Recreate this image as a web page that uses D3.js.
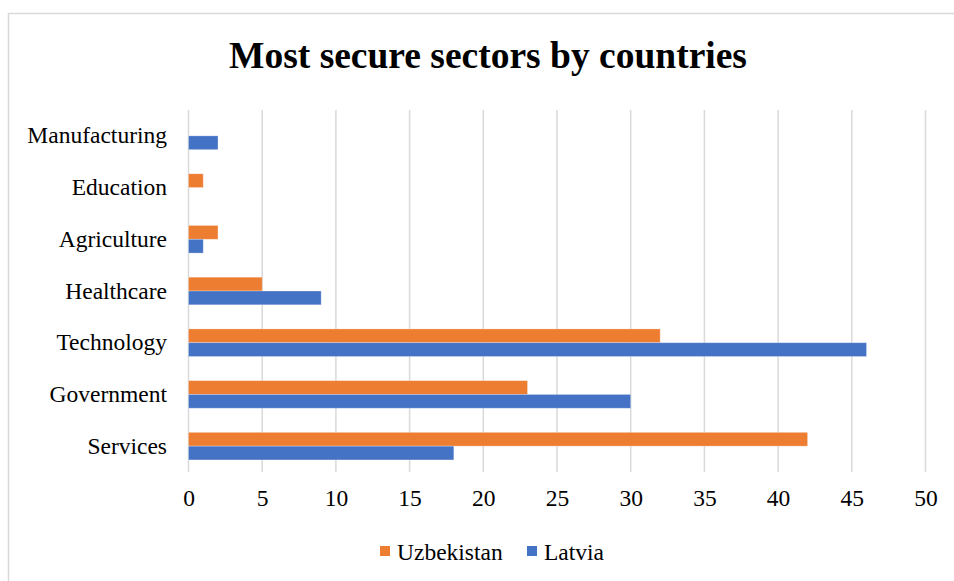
<!DOCTYPE html>
<html><head><meta charset="utf-8">
<script src="https://cdn.jsdelivr.net/npm/d3@7"></script>
<style>body{margin:0;background:#fff}svg{display:block}text{font-family:'Liberation Serif','Times New Roman',serif}</style>
</head><body>
<svg id="c" width="954" height="581"></svg>
<script>
const categories = ["Manufacturing","Education","Agriculture","Healthcare","Technology","Government","Services"];
const uzbekistan = [0,1,2,5,32,23,42];
const latvia = [2,0,1,9,46,30,18];
const seriesNames = ["Uzbekistan","Latvia"];
const xTicks = [0,5,10,15,20,25,30,35,40,45,50];
const title = "Most secure sectors by countries";

const svg = d3.select("#c");
const font = "'Liberation Serif','Times New Roman',serif";
const colors = {Uzbekistan:"#ED7D31", Latvia:"#4472C4"};

svg.append("rect").attr("x",8.5).attr("y",13.5).attr("width",960).attr("height",600)
  .attr("fill","#fff").attr("stroke","#d9d9d9").attr("stroke-width",1.5);

svg.append("text").attr("x",488).attr("y",68).attr("text-anchor","middle")
  .style("font-family",font).attr("font-weight","bold").attr("font-size",37.5).text(title);

const x = d3.scaleLinear().domain([0,50]).range([188.5,925.5]);
const y = d3.scaleBand().domain(categories).range([110,472]);
const inner = d3.scaleBand().domain(seriesNames).range([y.bandwidth()/2-13.8, y.bandwidth()/2+13.8]);

const grid = svg.append("g");
grid.selectAll("line").data(xTicks).join("line")
  .attr("x1",d=>x(d)).attr("x2",d=>x(d)).attr("y1",110).attr("y2",472)
  .attr("stroke","#d9d9d9").attr("stroke-width",1.5);

const data = [];
categories.forEach((c,i)=>{
  data.push({c, s:"Uzbekistan", v:uzbekistan[i]});
  data.push({c, s:"Latvia", v:latvia[i]});
});
svg.append("g").selectAll("rect").data(data.filter(d=>d.v>0)).join("rect")
  .attr("x",x(0)).attr("y",d=>y(d.c)+inner(d.s))
  .attr("width",d=>x(d.v)-x(0)).attr("height",inner.bandwidth())
  .attr("fill",d=>colors[d.s]).attr("stroke","rgba(255,255,255,0.35)").attr("stroke-width",0.8);

// y labels
const yAxis = d3.axisLeft(y).tickSize(0).tickPadding(0);
const ya = svg.append("g").attr("transform","translate(167,0)").call(yAxis)
  .attr("font-family",null).attr("font-size",null);
ya.select(".domain").remove();
ya.selectAll("text").style("font-family",font).style("font-size","23.5px").attr("fill","#000").attr("dy","0.32em");

// x labels
const xAxis = d3.axisBottom(x).tickValues(xTicks).tickSize(0).tickPadding(0);
const xa = svg.append("g").attr("transform","translate(0,489)").call(xAxis)
  .attr("font-family",null).attr("font-size",null);
xa.select(".domain").remove();
xa.selectAll("text").style("font-family",font).style("font-size","23.5px").attr("fill","#000").attr("dy","0.71em");

// legend
const leg = svg.append("g");
const legPos = [{s:"Uzbekistan", x:380},{s:"Latvia", x:527}];
legPos.forEach(p=>{
  leg.append("rect").attr("x",p.x).attr("y",546).attr("width",10).attr("height",10).attr("fill",colors[p.s]);
  leg.append("text").attr("x",p.x+17).attr("y",560).style("font-family",font).style("font-size","23.5px").text(p.s);
});
</script>
</body></html>
